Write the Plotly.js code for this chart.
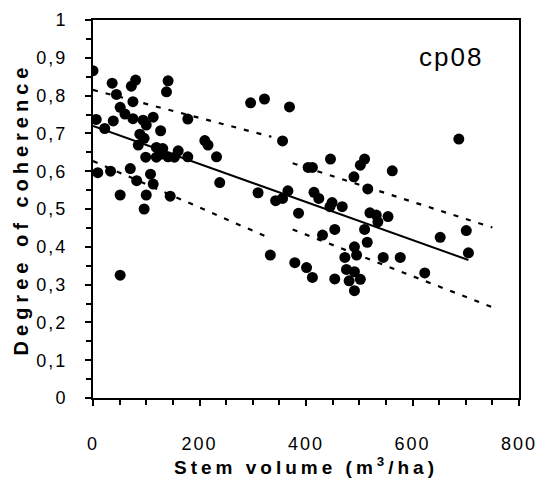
<!DOCTYPE html>
<html>
<head>
<meta charset="utf-8">
<script src="https://cdn.plot.ly/plotly-3.0.1.min.js"></script>
<style>
  html, body { margin: 0; padding: 0; background: #fff; }
  #chart { width: 541px; height: 487px; }
  .xtick text, .ytick text { letter-spacing: 2px; }
  .xtitle { letter-spacing: 4px; }
  .ytitle { letter-spacing: 5px; }
  .annotation-text { letter-spacing: 2px; }
</style>
</head>
<body>
<div id="chart"></div>
<script>
// Stem volume (m3/ha) and degree of coherence
const stemVolume = [
  0, 36, 80, 72, 141, 138, 44, 75, 51, 60,
  6, 38, 75, 94, 113, 100, 178, 22, 127, 88,
  96, 210, 216, 85, 119, 131, 160, 99, 119, 141,
  153, 178, 128, 9, 33, 70, 82, 108, 113, 51,
  100, 145, 96, 51,
  296, 322, 369, 232, 238, 310, 343, 356, 366, 333, 356,
  446, 510, 502, 404, 412, 562, 490, 516, 415, 424,
  449, 445, 468, 386, 520, 532, 535, 554, 431, 454,
  510, 515, 491, 495, 473, 545, 577, 379, 401, 412,
  476, 491, 454, 481, 502, 491, 623,
  687, 652, 701, 705
];
const coherence = [
  0.866, 0.833, 0.841, 0.825, 0.839, 0.810, 0.803, 0.784, 0.769, 0.751,
  0.737, 0.733, 0.739, 0.735, 0.743, 0.722, 0.738, 0.713, 0.707, 0.698,
  0.687, 0.681, 0.669, 0.669, 0.663, 0.660, 0.654, 0.637, 0.637, 0.638,
  0.637, 0.638, 0.645, 0.596, 0.600, 0.607, 0.575, 0.592, 0.566, 0.537,
  0.537, 0.534, 0.500, 0.325,
  0.781, 0.791, 0.770, 0.638, 0.570, 0.543, 0.522, 0.528, 0.548, 0.378, 0.680,
  0.632, 0.632, 0.616, 0.610, 0.610, 0.601, 0.585, 0.553, 0.544, 0.528,
  0.517, 0.506, 0.506, 0.489, 0.490, 0.484, 0.466, 0.480, 0.431, 0.446,
  0.446, 0.412, 0.400, 0.378, 0.372, 0.372, 0.372, 0.358, 0.345, 0.319,
  0.340, 0.334, 0.315, 0.310, 0.314, 0.284, 0.331,
  0.685, 0.425, 0.443, 0.384
];

// Regression line and dashed bands (endpoints)
const fitX = [0, 705];
const fitY = [0.72, 0.365];
const upperX = [0, 335, null, 375, 750];
const upperY = [0.815, 0.691, null, 0.621, 0.451];
const lowerX = [0, 335, null, 375, 750];
const lowerY = [0.627, 0.421, null, 0.446, 0.240];

// Tick labels
const xTickVals = [0, 200, 400, 600, 800];
const xTickText = ["0", "200", "400", "600", "800"];
const yTickVals = [0, 0.1, 0.2, 0.3, 0.4, 0.5, 0.6, 0.7, 0.8, 0.9, 1];
const yTickText = ["0", "0,1", "0,2", "0,3", "0,4", "0,5", "0,6", "0,7", "0,8", "0,9", "1"];

const font = "Liberation Sans, Arial, sans-serif";

const traces = [
  {
    x: upperX, y: upperY, type: "scatter", mode: "lines",
    line: { color: "#000", width: 2.2, dash: "5px,8px" },
    connectgaps: false, hoverinfo: "skip", showlegend: false
  },
  {
    x: lowerX, y: lowerY, type: "scatter", mode: "lines",
    line: { color: "#000", width: 2.2, dash: "5px,8px" },
    connectgaps: false, hoverinfo: "skip", showlegend: false
  },
  {
    x: fitX, y: fitY, type: "scatter", mode: "lines",
    line: { color: "#000", width: 2 },
    hoverinfo: "skip", showlegend: false
  },
  {
    x: stemVolume, y: coherence, type: "scatter", mode: "markers",
    marker: { color: "#000", size: 11, line: { width: 0 } },
    showlegend: false
  }
];

const layout = {
  width: 541, height: 487,
  margin: { l: 93, r: 22, t: 20, b: 89, pad: 0 },
  paper_bgcolor: "#fff", plot_bgcolor: "#fff",
  showlegend: false,
  font: { family: font, color: "#000", size: 18 },
  xaxis: {
    range: [0, 800],
    tickvals: xTickVals, ticktext: xTickText,
    ticks: "outside", ticklen: 6, tickwidth: 2, tickcolor: "#000",
    minor: { dtick: 50, ticks: "outside", ticklen: 5, tickwidth: 2, tickcolor: "#000" },
    showline: true, linecolor: "#000", linewidth: 2, mirror: true,
    showgrid: false, zeroline: false,
    ticklabelstandoff: 22,
    tickfont: { family: font, size: 18, color: "#000" },
    title: {
      text: "Stem volume (m<sup>3</sup>/ha)",
      font: { family: font, size: 19, color: "#000", weight: "bold" },
      standoff: 8
    }
  },
  yaxis: {
    range: [0, 1],
    tickvals: yTickVals, ticktext: yTickText,
    ticks: "outside", ticklen: 6, tickwidth: 2, tickcolor: "#000",
    minor: { dtick: 0.05, ticks: "outside", ticklen: 5, tickwidth: 2, tickcolor: "#000" },
    showline: true, linecolor: "#000", linewidth: 2, mirror: true,
    showgrid: false, zeroline: false,
    ticklabelstandoff: 14,
    tickfont: { family: font, size: 18, color: "#000" },
    title: {
      text: "Degree of coherence",
      font: { family: font, size: 20, color: "#000", weight: "bold" },
      standoff: 2
    }
  },
  annotations: [
    {
      text: "cp08", xref: "paper", yref: "paper",
      x: 0.841, y: 0.902, xanchor: "center", yanchor: "middle",
      showarrow: false,
      font: { family: font, size: 26, color: "#000" }
    }
  ]
};

Plotly.newPlot("chart", traces, layout, { displayModeBar: false, staticPlot: true });
</script>
</body>
</html>
